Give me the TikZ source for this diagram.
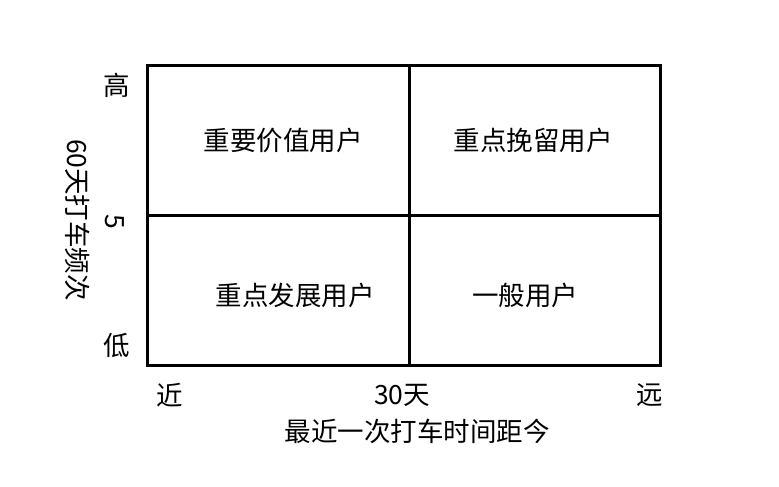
\documentclass[tikz,border=0pt]{standalone}
\usepackage{fontspec}
\setmainfont{Noto Sans CJK SC}
\begin{document}
\begin{tikzpicture}[x=1pt,y=-1pt,
  lab/.style={font=\fontsize{26.5}{30}\selectfont,inner sep=0pt},
  ln/.style={line width=3pt}]
\useasboundingbox (0,0) rectangle (779,487);
\coordinate (tl) at (147,66); \coordinate (br) at (660,365);
\coordinate (mt) at (409,66); \coordinate (mb) at (409,365);
\coordinate (ml) at (147,215); \coordinate (mr) at (660,215);
\draw[ln] (tl) rectangle (br);
\draw[ln] (mt) -- (mb);
\draw[ln] (ml) -- (mr);
\node[lab] (a) at (283,140) {重要价值用户};
\node[lab] (b) at (533,140) {重点挽留用户};
\node[lab] (c) at (295,295) {重点发展用户};
\node[lab] (d) at (525,295) {一般用户};
\node[lab] (hi) at (117,85) {高};
\node[lab] (lo) at (117,346) {低};
\node[lab,rotate=-90] (five) at (115,222) {5};
\node[lab,rotate=-90] (yl) at (78,220) {60天打车频次};
\node[lab] (near) at (170,395) {近};
\node[lab] (t30) at (402,395) {30天};
\node[lab] (far) at (650,395) {远};
\node[lab] (xl) at (417,431) {最近一次打车时间距今};
\end{tikzpicture}
\end{document}
